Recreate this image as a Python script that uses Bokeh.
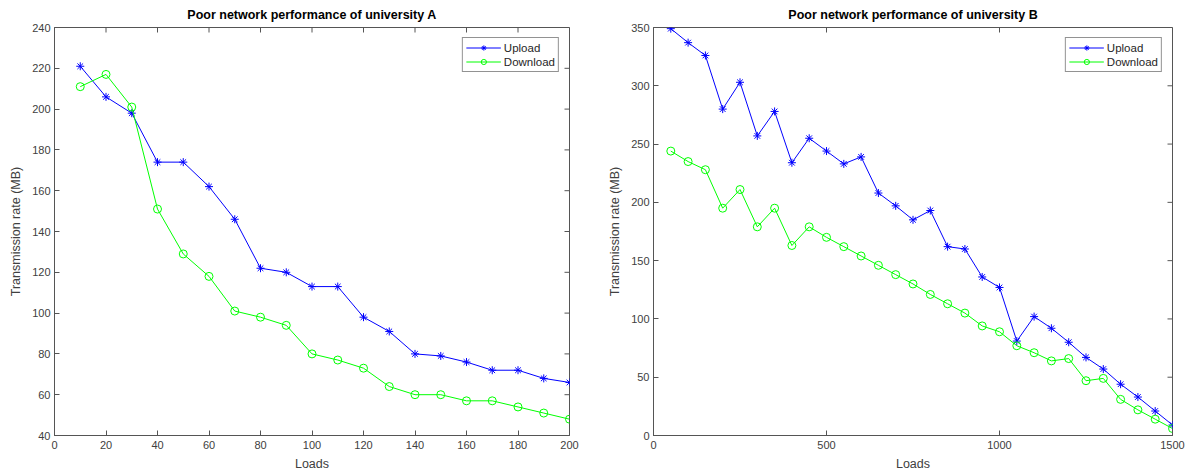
from bokeh.plotting import figure
from bokeh.layouts import row
from bokeh.models import Range1d, FixedTicker
from bokeh.embed import file_html
from bokeh.resources import INLINE

# ---- data ----
loads_a = [10, 20, 30, 40, 50, 60, 70, 80, 90, 100, 110, 120, 130, 140, 150, 160, 170, 180, 190, 200]
upload_a = [221, 206, 198, 174, 174, 162, 146, 122, 120, 113, 113, 98, 91, 80, 79, 76, 72, 72, 68, 66]
download_a = [211, 217, 201, 151, 129, 118, 101, 98, 94, 80, 77, 73, 64, 60, 60, 57, 57, 54, 51, 48]

loads_b = [50, 100, 150, 200, 250, 300, 350, 400, 450, 500, 550, 600, 650, 700, 750,
           800, 850, 900, 950, 1000, 1050, 1100, 1150, 1200, 1250, 1300, 1350, 1400, 1450, 1500]
upload_b = [349, 337, 326, 280, 303, 257, 278, 234, 255, 244, 233, 239, 208, 197, 185,
            193, 162, 160, 136, 127, 81, 102, 92, 80, 67, 57, 44, 33, 21, 9]
download_b = [244, 235, 228, 195, 211, 179, 195, 163, 179, 170, 162, 154, 146, 138, 130,
              121, 113, 105, 94, 89, 77, 71, 64, 66, 47, 49, 31, 22, 14, 6]

ticks_ax = [0, 20, 40, 60, 80, 100, 120, 140, 160, 180, 200]
ticks_ay = [40, 60, 80, 100, 120, 140, 160, 180, 200, 220, 240]
ticks_bx = [0, 500, 1000, 1500]
ticks_by = [0, 50, 100, 150, 200, 250, 300, 350]

FONT = "Liberation Sans"
AXC = "#555555"
TXC = "#404040"


def style_axis(ax, ticks):
    ax.ticker = FixedTicker(ticks=ticks)
    ax.major_tick_in = 5
    ax.major_tick_out = 0
    ax.minor_tick_line_color = None
    ax.axis_line_color = AXC
    ax.major_tick_line_color = AXC
    ax.major_label_text_font = FONT
    ax.major_label_text_color = TXC
    ax.major_label_text_font_size = "11px"
    ax.axis_label_text_font = FONT
    ax.axis_label_text_font_size = "12.5px"
    ax.axis_label_text_font_style = "normal"
    ax.axis_label_text_color = TXC


def make(title, xs, up, down, xr, yr, xt, yt, bl, br, fw, fh, bt):
    p = figure(output_backend="svg", toolbar_location=None,
               frame_width=fw, frame_height=fh,
               min_border_left=bl, min_border_right=br,
               min_border_top=bt, min_border_bottom=0,
               x_range=Range1d(*xr), y_range=Range1d(*yr),
               title=title)
    p.title.align = "center"
    p.title.vertical_align = "middle"
    p.title.text_font = FONT
    p.title.text_font_size = "12.5px"
    p.title.text_font_style = "bold"
    p.title.text_color = "black"
    p.title.standoff = 10
    p.outline_line_color = AXC
    p.outline_line_width = 1
    p.grid.visible = False
    p.background_fill_color = "white"
    p.border_fill_color = "white"

    style_axis(p.xaxis[0], xt)
    style_axis(p.yaxis[0], yt)
    p.xaxis[0].axis_label = "Loads"
    p.xaxis[0].major_label_standoff = 5
    p.xaxis[0].axis_label_standoff = 5
    p.yaxis[0].axis_label = "Transmission rate (MB)"
    p.yaxis[0].major_label_standoff = 4
    p.yaxis[0].axis_label_standoff = 6

    # inward ticks on the top and right edges (MATLAB box style)
    p.ray(x=xt, y=yr[1], length=5, length_units="screen", angle=-90,
          angle_units="deg", line_color=AXC, line_width=1)
    p.ray(x=xr[1], y=yt, length=5, length_units="screen", angle=180,
          angle_units="deg", line_color=AXC, line_width=1)

    p.line(xs, up, line_color="#0000ff", line_width=1, legend_label="Upload")
    p.scatter(xs, up, marker="asterisk", size=8, line_color="#0000ff",
              line_width=1, legend_label="Upload")
    p.line(xs, down, line_color="#00ff00", line_width=1, legend_label="Download")
    p.scatter(xs, down, marker="circle", size=8, line_color="#00ff00",
              fill_color=None, line_width=1, legend_label="Download")

    lg = p.legend[0]
    lg.location = "top_right"
    lg.margin = 10
    lg.padding = 3
    lg.spacing = 1
    lg.glyph_width = 35
    lg.glyph_height = 13
    lg.label_standoff = 3
    lg.label_text_font = FONT
    lg.label_text_font_size = "11.5px"
    lg.label_text_color = "#262626"
    lg.label_height = 13
    lg.border_line_color = "#262626"
    lg.border_line_width = 1
    lg.background_fill_alpha = 1
    return p


pa = make("Poor network performance of university A", loads_a, upload_a, download_a,
          (0, 200), (40, 240), ticks_ax, ticks_ay, 54, 31, 515, 408, 27)
pb = make("Poor network performance of university B", loads_b, upload_b, download_b,
          (0, 1500), (0, 350), ticks_bx, ticks_by, 53, 17, 519, 408, 27)

layout = row(pa, pb)
open("out.html", "w").write(file_html(layout, INLINE))
